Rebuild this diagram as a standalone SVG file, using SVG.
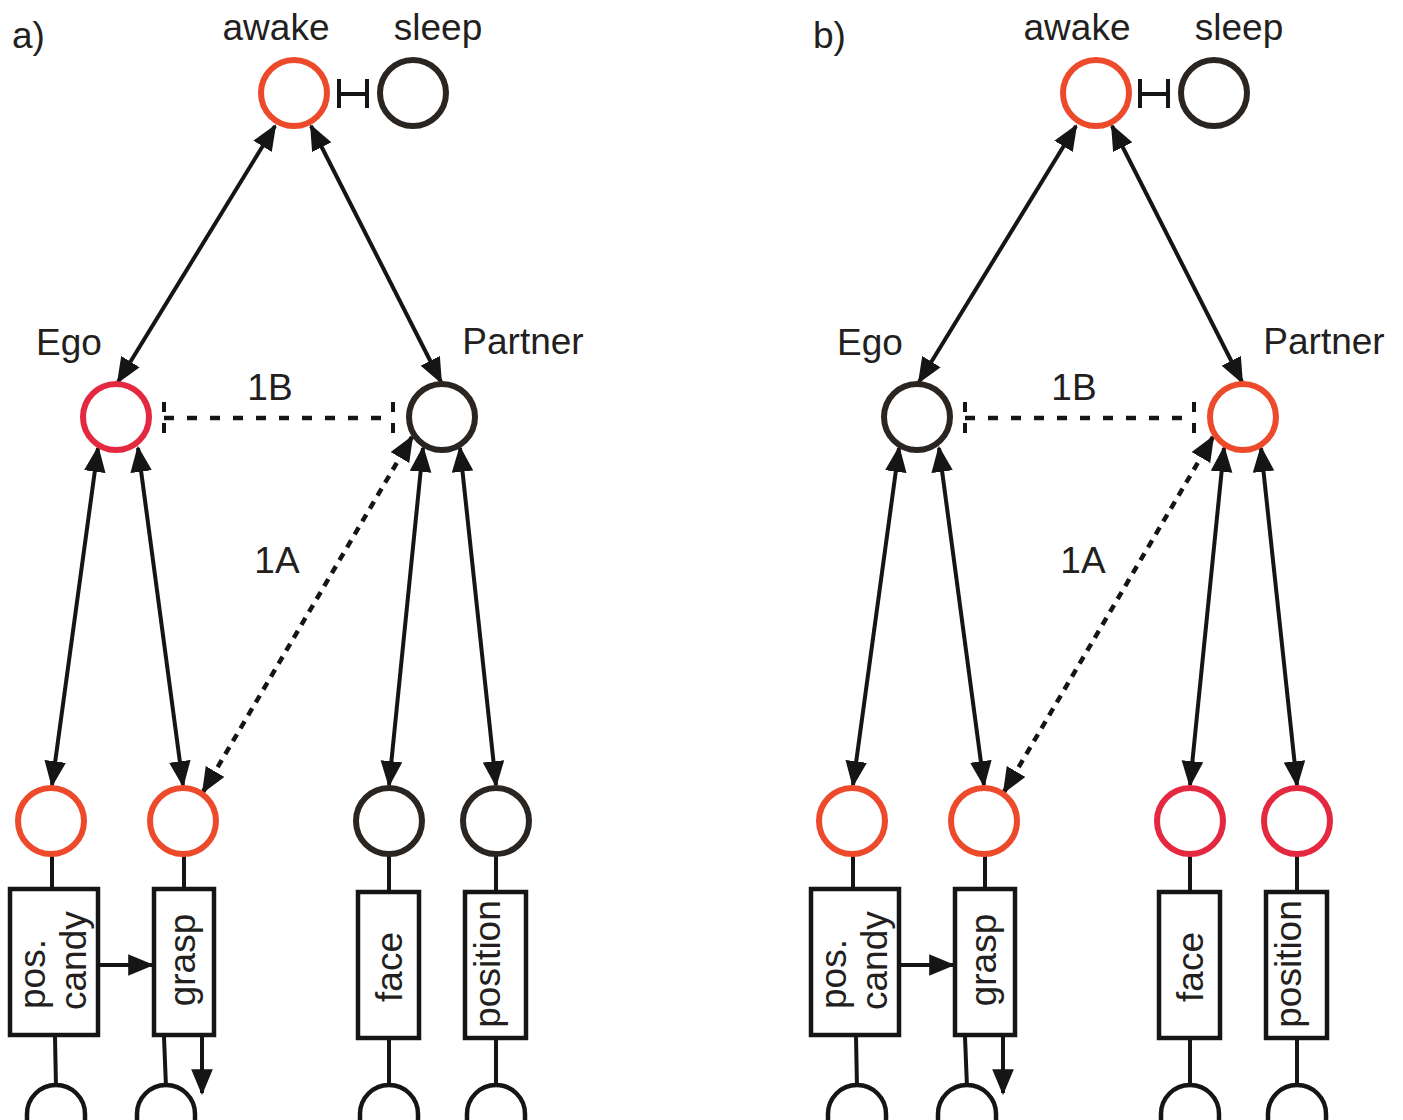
<svg xmlns="http://www.w3.org/2000/svg" width="1403" height="1120" viewBox="0 0 1403 1120">
<style>
.t{font-family:"Liberation Sans",Arial,sans-serif;font-size:37px;fill:#231f20}
.red{fill:none;stroke:#ec4a2a;stroke-width:6}
.crim{fill:none;stroke:#e3283f;stroke-width:6}
.dark{fill:none;stroke:#2b2522;stroke-width:6}
.ln{stroke:#151515;stroke-width:4;fill:none}
.arr{marker-start:url(#ah);marker-end:url(#ah)}
.one{marker-end:url(#ah)}
.dot{stroke-dasharray:8 7;stroke-width:4.5}
.dash{stroke-dasharray:10 13;stroke-width:4.5}
.box{fill:#fff;stroke:#151515;stroke-width:4.5}
.arc{fill:none;stroke:#151515;stroke-width:4.5}
</style>
<defs>
<marker id="ah" markerUnits="userSpaceOnUse" markerWidth="26" markerHeight="22" refX="22" refY="10" orient="auto-start-reverse" viewBox="0 0 24 20"><path d="M0,0 L24,10 L0,20 z" fill="#151515"/></marker>
<g id="tmpl-connectors">
<line class="ln arr" x1="275" y1="126" x2="118" y2="382"/>
<line class="ln arr" x1="311" y1="126" x2="441" y2="382"/>
<line class="ln arr" x1="98" y1="448" x2="52" y2="785"/>
<line class="ln arr" x1="138" y1="448" x2="183" y2="785"/>
<line class="ln arr" x1="423" y1="448" x2="389" y2="785"/>
<line class="ln arr" x1="460" y1="448" x2="496" y2="785"/>
<line class="ln arr dot" x1="412" y1="437" x2="203" y2="792"/>
<line class="ln dash" x1="164" y1="418" x2="393" y2="418"/>
<line class="ln" x1="164" y1="402" x2="164" y2="412" stroke-width="4.5"/>
<line class="ln" x1="164" y1="423" x2="164" y2="433" stroke-width="4.5"/>
<line class="ln" x1="393" y1="402" x2="393" y2="412" stroke-width="4.5"/>
<line class="ln" x1="393" y1="423" x2="393" y2="433" stroke-width="4.5"/>
<path class="ln" d="M339,79 V108 M339,94 H367 M367,79 V108" stroke-width="5"/>
<line class="ln one" x1="100" y1="965" x2="152" y2="965"/>
<line class="ln one" x1="202" y1="1037" x2="202" y2="1093"/>
<line class="ln" x1="52" y1="855" x2="52" y2="889"/>
<line class="ln" x1="184" y1="855" x2="184" y2="889"/>
<line class="ln" x1="389" y1="855" x2="389" y2="892"/>
<line class="ln" x1="496" y1="855" x2="496" y2="892"/>
<line class="ln" x1="55" y1="1037" x2="56" y2="1087"/>
<line class="ln" x1="164" y1="1037" x2="166" y2="1087"/>
<line class="ln" x1="389" y1="1040" x2="389" y2="1087"/>
<line class="ln" x1="496" y1="1040" x2="496" y2="1087"/>
</g>
</defs>

<!-- Panel a -->
<g id="panel-a">
<text class="t" x="12" y="48">a)</text>
<g id="connectors-a"><use href="#tmpl-connectors"/></g>
<g id="awake-a"><text class="t" x="276" y="40" text-anchor="middle">awake</text><circle class="red" cx="294" cy="93" r="33"/></g>
<g id="sleep-a"><text class="t" x="438" y="40" text-anchor="middle">sleep</text><circle class="dark" cx="413" cy="93" r="33"/></g>
<g id="ego-a"><text class="t" x="69" y="355" text-anchor="middle">Ego</text><circle class="crim" cx="116" cy="417" r="33"/></g>
<g id="partner-a"><text class="t" x="523" y="354" text-anchor="middle">Partner</text><circle class="dark" cx="442" cy="417" r="33"/></g>
<g id="label-1b-a"><text class="t" x="270" y="400" text-anchor="middle">1B</text></g>
<g id="label-1a-a"><text class="t" x="277" y="573" text-anchor="middle">1A</text></g>
<g id="n-poscandy-a"><circle class="red" cx="51" cy="821" r="33"/><rect class="box" x="10" y="889" width="88" height="146"/><text class="t" transform="translate(45,1009) rotate(-90)">pos.</text><text class="t" transform="translate(86,1010) rotate(-90)">candy</text><path class="arc" d="M27,1120 V1114 A29,29 0 0 1 85,1114 V1120"/></g>
<g id="n-grasp-a"><circle class="red" cx="183" cy="821" r="33"/><rect class="box" x="154" y="889" width="60" height="146"/><text class="t" text-anchor="middle" transform="translate(195,960) rotate(-90)">grasp</text><path class="arc" d="M137,1120 V1114 A29,29 0 0 1 195,1114 V1120"/></g>
<g id="n-face-a"><circle class="dark" cx="389" cy="821" r="33"/><rect class="box" x="358" y="892" width="61" height="146"/><text class="t" text-anchor="middle" transform="translate(402,967) rotate(-90)">face</text><path class="arc" d="M360,1120 V1114 A29,29 0 0 1 418,1114 V1120"/></g>
<g id="n-position-a"><circle class="dark" cx="496" cy="821" r="33"/><rect class="box" x="465" y="892" width="61" height="146"/><text class="t" text-anchor="middle" transform="translate(500,964) rotate(-90)">position</text><path class="arc" d="M467,1120 V1114 A29,29 0 0 1 525,1114 V1120"/></g>
</g>

<!-- Panel b -->
<g id="panel-b" transform="translate(801,0)">
<text class="t" x="12" y="48">b)</text>
<g id="connectors-b"><use href="#tmpl-connectors"/></g>
<g id="awake-b"><text class="t" x="276" y="40" text-anchor="middle">awake</text><circle class="red" cx="295" cy="93" r="33"/></g>
<g id="sleep-b"><text class="t" x="438" y="40" text-anchor="middle">sleep</text><circle class="dark" cx="413" cy="93" r="33"/></g>
<g id="ego-b"><text class="t" x="69" y="355" text-anchor="middle">Ego</text><circle class="dark" cx="116" cy="417" r="33"/></g>
<g id="partner-b"><text class="t" x="523" y="354" text-anchor="middle">Partner</text><circle class="red" cx="442" cy="417" r="33"/></g>
<g id="label-1b-b"><text class="t" x="273" y="400" text-anchor="middle">1B</text></g>
<g id="label-1a-b"><text class="t" x="282" y="573" text-anchor="middle">1A</text></g>
<g id="n-poscandy-b"><circle class="red" cx="51" cy="821" r="33"/><rect class="box" x="10" y="889" width="88" height="146"/><text class="t" transform="translate(45,1009) rotate(-90)">pos.</text><text class="t" transform="translate(86,1010) rotate(-90)">candy</text><path class="arc" d="M27,1120 V1114 A29,29 0 0 1 85,1114 V1120"/></g>
<g id="n-grasp-b"><circle class="red" cx="183" cy="821" r="33"/><rect class="box" x="154" y="889" width="60" height="146"/><text class="t" text-anchor="middle" transform="translate(195,960) rotate(-90)">grasp</text><path class="arc" d="M137,1120 V1114 A29,29 0 0 1 195,1114 V1120"/></g>
<g id="n-face-b"><circle class="crim" cx="389" cy="821" r="33"/><rect class="box" x="358" y="892" width="61" height="146"/><text class="t" text-anchor="middle" transform="translate(402,967) rotate(-90)">face</text><path class="arc" d="M360,1120 V1114 A29,29 0 0 1 418,1114 V1120"/></g>
<g id="n-position-b"><circle class="crim" cx="496" cy="821" r="33"/><rect class="box" x="465" y="892" width="61" height="146"/><text class="t" text-anchor="middle" transform="translate(500,964) rotate(-90)">position</text><path class="arc" d="M467,1120 V1114 A29,29 0 0 1 525,1114 V1120"/></g>
</g>
</svg>
